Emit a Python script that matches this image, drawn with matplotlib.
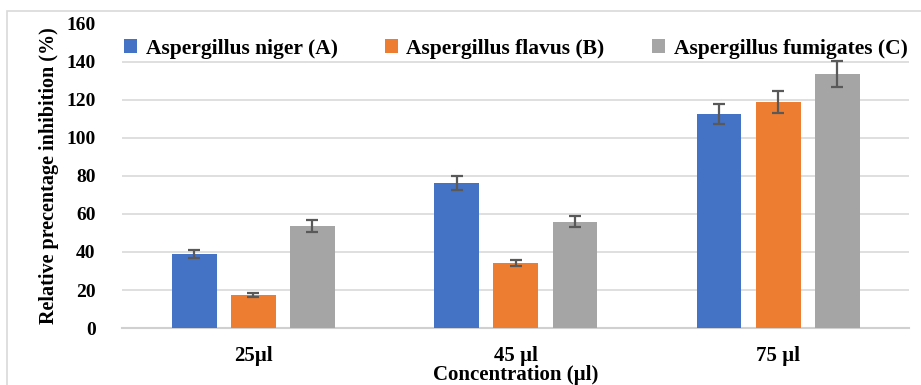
import matplotlib
matplotlib.use("Agg")
import matplotlib.pyplot as plt
import numpy as np
from matplotlib.patches import Rectangle

categories = ["25µl", "45 µl", "75 µl"]
series_names = ["Aspergillus niger (A)", "Aspergillus flavus (B)", "Aspergillus fumigates (C)"]
niger = [39, 76.3, 112.6]
flavus = [17.4, 34.2, 118.9]
fumigates = [53.7, 55.8, 133.7]
niger_err = [2.2, 3.7, 5.3]
flavus_err = [1.0, 1.7, 6.0]
fumigates_err = [3.0, 2.9, 6.7]
colors = ["#4472C4", "#ED7D31", "#A5A5A5"]

plt.rcParams['font.family'] = ['Liberation Serif', 'DejaVu Serif']
plt.rcParams['font.weight'] = 'bold'

fig = plt.figure(figsize=(9.21, 3.85), dpi=100)
ax = fig.add_axes([0.1325, 0.148, 0.855, 0.79])

x = np.arange(len(categories))
width = 0.17
step = 0.225
data = [niger, flavus, fumigates]
errs = [niger_err, flavus_err, fumigates_err]
for i, (vals, err, c, name) in enumerate(zip(data, errs, colors, series_names)):
    ax.bar(x + (i - 1) * step, vals, width, color=c, label=name, zorder=3,
           yerr=err, error_kw=dict(ecolor="#595959", elinewidth=1.6, capsize=4, capthick=1.6, zorder=4))

ax.set_xlim(-0.5, 2.5)
ax.set_ylim(0, 160)
ax.set_yticks(np.arange(0, 161, 20))
for yv in range(20, 141, 20):
    ax.axhline(yv, color="#D9D9D9", lw=1.2, zorder=1)
for s in ["top", "right", "left"]:
    ax.spines[s].set_visible(False)
ax.spines["bottom"].set_color("#D0D0D0")
ax.spines["bottom"].set_linewidth(1.5)
ax.tick_params(axis="both", length=0, labelsize=14)
ax.tick_params(axis="x", pad=13)
ax.tick_params(axis="y", pad=19)
ax.set_xticks(x)
ax.set_xticklabels(categories, fontweight="bold", fontsize=15)
for lab in ax.get_yticklabels():
    lab.set_fontweight("bold")
ax.set_xlabel("Concentration (µl)", fontsize=15, fontweight="bold", labelpad=-1)
ax.set_ylabel("Relative precentage inhibition (%)", fontsize=14.5, fontweight="bold", labelpad=5)

leg = ax.legend(loc="upper center", bbox_to_anchor=(0.5, 1.015), ncol=3, frameon=False,
                handlelength=0.6, handleheight=0.6, handletextpad=0.4,
                columnspacing=2.2, prop={'weight': 'bold', 'size': 15.5})

fig.add_artist(Rectangle((7 / 921, -0.1), 1.1, 1 - 11 / 385 + 0.1, transform=fig.transFigure,
                         fill=False, edgecolor="#D9D9D9", lw=1.2))

fig.savefig("out.png", dpi=100)
